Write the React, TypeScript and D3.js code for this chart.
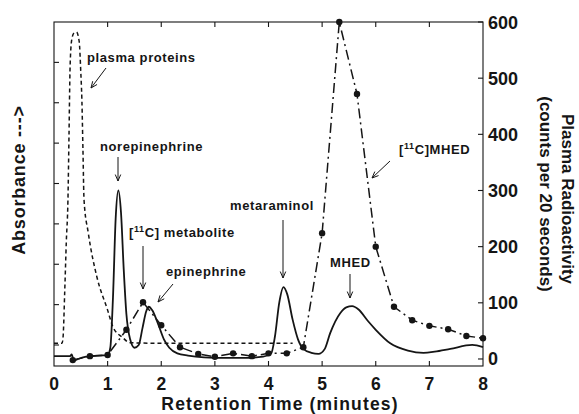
import React from "react";
import * as d3 from "d3";

const W = 579, H = 414;

// Time axis (minutes)
const xTicks = [0, 1, 2, 3, 4, 5, 6, 7, 8];
// Right axis (counts per 20 seconds)
const yTicks = [0, 100, 200, 300, 400, 500, 600];
// Left axis ticks (absorbance, unlabeled)
const leftTicks = [0, 1, 2, 3, 4, 5, 6, 7];

// Absorbance trace (solid), in right-axis units
const absX = [0, 0.3, 0.33, 0.37, 0.45, 0.6, 0.8, 1.0, 1.05, 1.1, 1.15, 1.2, 1.25, 1.3, 1.35, 1.42, 1.5, 1.58, 1.65, 1.72, 1.77, 1.83, 1.95, 2.05, 2.15, 2.3, 2.5, 2.8, 3.2, 3.6, 3.9, 4.05, 4.12, 4.2, 4.28, 4.35, 4.45, 4.55, 4.65, 4.8, 4.93, 5.05, 5.15, 5.34, 5.45, 5.56, 5.68, 5.85, 6.0, 6.27, 6.6, 6.89, 7.1, 7.39, 7.8, 8.0];
const absV = [5, 5, 8, -3, 0, 4, 6, 7, 20, 110, 250, 300, 260, 160, 80, 35, 20, 25, 55, 85, 93, 87, 60, 35, 20, 10, 6, 3, 2, 2, 4, 10, 40, 100, 128, 115, 70, 35, 18, 11, 9, 18, 46, 82, 92, 94, 88, 68, 52, 28, 15, 11, 13, 18, 25, 21];

// Plasma proteins trace (short dashes)
const ppX = [0, 0.15, 0.17, 0.2, 0.23, 0.26, 0.28, 0.3, 0.33, 0.37, 0.42, 0.47, 0.5, 0.52, 0.54, 0.56, 0.64, 0.8, 1.0, 1.1, 1.27, 1.42, 2, 3, 4, 4.45];
const ppV = [28, 28, 40, 120, 210, 283, 400, 520, 568, 580, 582, 565, 510, 461, 372, 283, 224, 146, 87, 57, 39, 29, 28, 28, 28, 28];

// Plasma radioactivity samples (dash-dot with dots)
const radX = [0.35, 0.67, 1.0, 1.35, 1.66, 2.0, 2.35, 2.69, 3.0, 3.34, 3.69, 4.0, 4.34, 4.65, 5.0, 5.32, 5.65, 6.0, 6.34, 6.68, 7.0, 7.35, 7.69, 8.0];
const radV = [-2, 5, 7, 52, 101, 60, 21, 9, 4, 10, 5, 10, 10, 21, 224, 600, 472, 200, 93, 69, 59, 53, 41, 37];

const x = d3.scaleLinear().domain([0, 8]).range([54, 483]);
const y = d3.scaleLinear().domain([-12.5, 600]).range([366, 22]);
const yl = d3.scaleLinear().domain([-0.52, 8.0]).range([366, 22]);

const font = "'Liberation Sans', Arial, Helvetica, sans-serif";
const ink = "#151515";

type P = [number, number];
const zip = (a: number[], b: number[]): P[] => a.map((v, i) => [v, b[i]]);

const lineSmooth = d3.line<P>().x(d => x(d[0])).y(d => y(d[1])).curve(d3.curveMonotoneX);
const lineStraight = d3.line<P>().x(d => x(d[0])).y(d => y(d[1]));

function Arrow({ x1, y1, x2, y2 }: { x1: number; y1: number; x2: number; y2: number }) {
  const ang = Math.atan2(y2 - y1, x2 - x1);
  const L = 7, a = 0.4;
  const p1: P = [x2 - L * Math.cos(ang - a), y2 - L * Math.sin(ang - a)];
  const p2: P = [x2 - L * Math.cos(ang + a), y2 - L * Math.sin(ang + a)];
  return (
    <g stroke={ink} strokeWidth={1} fill="none">
      <line x1={x1} y1={y1} x2={x2} y2={y2} />
      <polyline points={`${p1[0]},${p1[1]} ${x2},${y2} ${p2[0]},${p2[1]}`} />
    </g>
  );
}

export default function App() {
  const absPts = zip(absX, absV);
  const ppPts = zip(ppX, ppV);
  const radPts = zip(radX, radV);
  const [x0, x1] = x.range();
  const yTop = 22, yBot = 366;
  const lbl = { fontFamily: font, fontWeight: 700, fontSize: 13, fill: ink, letterSpacing: 0.6 } as const;
  return (
    <svg width={W} height={H} style={{ position: "absolute", left: 0, top: 0, background: "#fff" }}>
      {/* frame */}
      <rect x={x0} y={yTop} width={x1 - x0} height={yBot - yTop} fill="none" stroke={ink} strokeWidth={1.1} />
      {/* bottom & top ticks */}
      {xTicks.slice(1, -1).map(t => (
        <g key={"xt" + t} stroke={ink} strokeWidth={1.1}>
          <line x1={x(t)} x2={x(t)} y1={yBot} y2={yBot - 5} />
          <line x1={x(t)} x2={x(t)} y1={yTop} y2={yTop + 5} />
        </g>
      ))}
      {xTicks.map(t => (
        <text key={"xl" + t} x={x(t)} y={390} textAnchor="middle" fontFamily={font} fontWeight={700} fontSize={17.5} fill={ink}>{t}</text>
      ))}
      {/* left ticks */}
      {leftTicks.map(t => (
        <line key={"lt" + t} x1={x0} x2={x0 + 5} y1={yl(t)} y2={yl(t)} stroke={ink} strokeWidth={1.1} />
      ))}
      {/* right ticks */}
      {yTicks.map(t => (
        <g key={"yt" + t}>
          <line x1={x1} x2={x1 - 5} y1={y(t)} y2={y(t)} stroke={ink} strokeWidth={1.1} />
          <text x={488} y={y(t) + 6.5} fontFamily={font} fontWeight={700} fontSize={18} fill={ink}>{t}</text>
        </g>
      ))}

      {/* traces */}
      <path d={lineSmooth(ppPts) || ""} fill="none" stroke={ink} strokeWidth={1.5} strokeDasharray="4,3" />
      <path d={lineSmooth(absPts) || ""} fill="none" stroke={ink} strokeWidth={1.8} />
      <path d={lineStraight(radPts) || ""} fill="none" stroke={ink} strokeWidth={1.5} strokeDasharray="10,4,2,4" />
      {radPts.map((d, i) => (
        <circle key={"r" + i} cx={x(d[0])} cy={y(d[1])} r={3.2} fill={ink} />
      ))}

      {/* annotations */}
      <text x={87} y={62} {...lbl}>plasma proteins</text>
      <Arrow x1={106} y1={68} x2={91} y2={88} />
      <text x={100} y={151} {...lbl}>norepinephrine</text>
      <Arrow x1={118} y1={157} x2={118} y2={181} />
      <text x={129} y={237} {...lbl}>[<tspan fontSize={9} dy={-5}>11</tspan><tspan dy={5}>C]  metabolite</tspan></text>
      <Arrow x1={143} y1={246} x2={143} y2={289} />
      <text x={166} y={276} {...lbl}>epinephrine</text>
      <Arrow x1={173} y1={284} x2={158} y2={302} />
      <text x={230} y={210} {...lbl}>metaraminol</text>
      <Arrow x1={283} y1={220} x2={283} y2={278} />
      <text x={330} y={267} {...lbl}>MHED</text>
      <Arrow x1={350} y1={274} x2={350} y2={298} />
      <text x={399} y={154} {...lbl}>[<tspan fontSize={9} dy={-5}>11</tspan><tspan dy={5}>C]MHED</tspan></text>
      <Arrow x1={390} y1={161} x2={372} y2={178} />

      {/* axis titles */}
      <text x={280} y={409.5} textAnchor="middle" fontFamily={font} fontWeight={700} fontSize={17.5} letterSpacing={1.15} fill={ink}>Retention Time (minutes)</text>
      <text transform="translate(25,180) rotate(-90)" textAnchor="middle" fontFamily={font} fontWeight={700} fontSize={18} letterSpacing={0.8} fill={ink}>Absorbance ---&gt;</text>
      <text transform="translate(562,199) rotate(90)" textAnchor="middle" fontFamily={font} fontWeight={700} fontSize={17} fill={ink}>Plasma Radioactivity</text>
      <text transform="translate(540,194) rotate(90)" textAnchor="middle" fontFamily={font} fontWeight={700} fontSize={17} fill={ink}>(counts per 20 seconds)</text>
    </svg>
  );
}
